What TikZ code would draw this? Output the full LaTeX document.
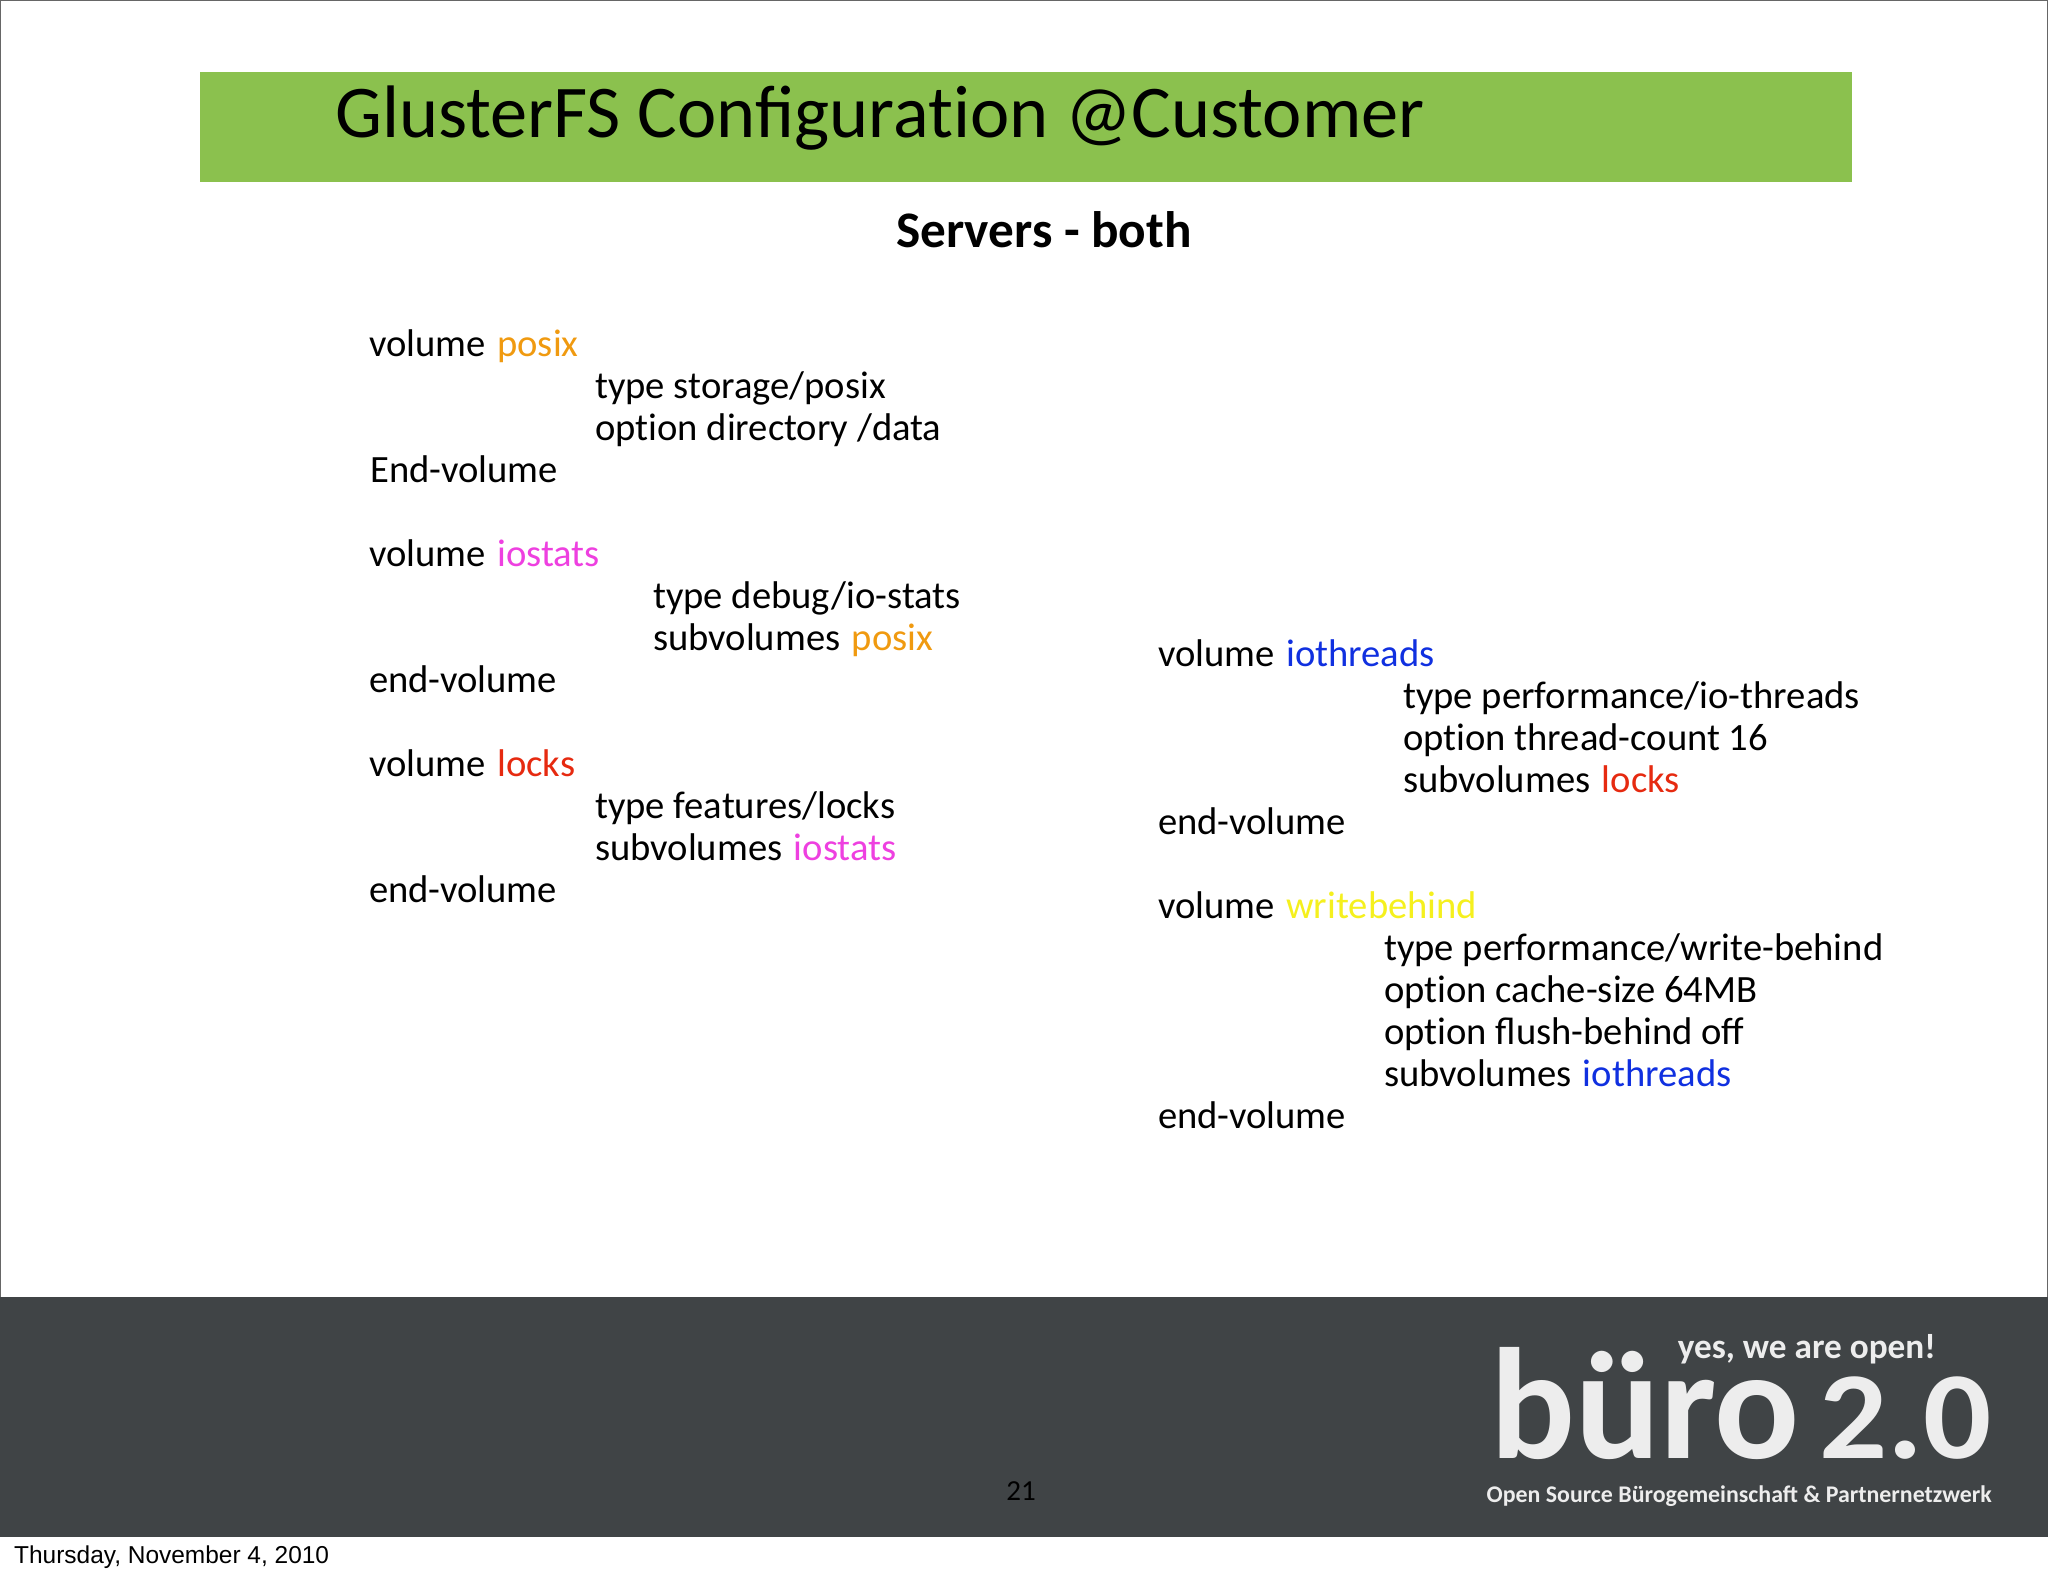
\documentclass[tikz,border=0pt]{standalone}
\usepackage{fontspec}
\usepackage{graphicx}
\setmainfont{Carlito}
\newfontfamily\helv{Liberation Sans}
\definecolor{bar}{HTML}{8BC14E}
\definecolor{foot}{HTML}{404446}
\definecolor{cposix}{HTML}{F09A10}
\definecolor{ciostats}{HTML}{EE40E0}
\definecolor{clocks}{HTML}{E62A10}
\definecolor{cthreads}{HTML}{1030E0}
\definecolor{cwrite}{HTML}{F5F01E}
\definecolor{logo}{HTML}{EDEDED}
\newcommand{\cword}[2]{\kern3pt\textcolor{#1}{#2}}
\newcommand{\tiN}{t\kern0pt i}
\tikzset{x=0.0375cm,y=-0.0375cm,
 codeline/.style={anchor=base west,inner sep=0pt,font=\fontsize{41.2}{44}\selectfont},
 titletext/.style={anchor=base west,inner sep=0pt,font=\fontsize{79.4}{84}\selectfont},
 headtext/.style={anchor=base,inner sep=0pt,font=\bfseries\fontsize{54.7}{58}\selectfont},
 logotext/.style={inner sep=0pt,text=logo}}
\begin{document}
\begin{tikzpicture}
\useasboundingbox (0,0) rectangle (2048,1576);
\fill[white] (0,0) rectangle (2048,1576);
\draw[black!60,line width=0.6pt] (0.5,0.5) -- (2047.5,0.5);
\draw[black!60,line width=0.6pt] (0.5,0.5) -- (0.5,1297);
\draw[black!60,line width=0.6pt] (2047.5,0.5) -- (2047.5,1297);
\fill[bar] (200,72) rectangle (1852,181.5);
\fill[foot] (0,1297) rectangle (2048,1537);
\node[titletext] (title) at (335,137) {GlusterFS Configura\tiN{}on @Customer};
\node[headtext] (head) at (1044,247) {Servers - both};
\node[codeline] (a1) at (369,356) {volume \cword{cposix}{posix}};
\node[codeline] (a2) at (595,398) {type storage/posix};
\node[codeline] (a3) at (595,440) {op\tiN{}on directory /data};
\node[codeline] (a4) at (370,482) {End-volume};
\node[codeline] (b1) at (369,566) {volume \cword{ciostats}{iostats}};
\node[codeline] (b2) at (653,608) {type debug/io-stats};
\node[codeline] (b3) at (653,650) {subvolumes \cword{cposix}{posix}};
\node[codeline] (b4) at (369,692) {end-volume};
\node[codeline] (c1) at (369,776) {volume \cword{clocks}{locks}};
\node[codeline] (c2) at (595,818) {type features/locks};
\node[codeline] (c3) at (595,860) {subvolumes \cword{ciostats}{iostats}};
\node[codeline] (c4) at (369,902) {end-volume};
\node[codeline] (d1) at (1158,666) {volume \cword{cthreads}{iothreads}};
\node[codeline] (d2) at (1403,708) {type performance/io-threads};
\node[codeline] (d3) at (1403,750) {op\tiN{}on thread-count 16};
\node[codeline] (d4) at (1403,792) {subvolumes \cword{clocks}{locks}};
\node[codeline] (d5) at (1158,834) {end-volume};
\node[codeline] (e1) at (1158,918) {volume \cword{cwrite}{writebehind}};
\node[codeline] (e2) at (1384,960) {type performance/write-behind};
\node[codeline] (e3) at (1384,1002) {op\tiN{}on cache-size 64MB};
\node[codeline] (e4) at (1384,1044) {op\tiN{}on flush-behind off};
\node[codeline] (e5) at (1384,1086) {subvolumes \cword{cthreads}{iothreads}};
\node[codeline] (e6) at (1158,1128) {end-volume};
\node[anchor=base,inner sep=0pt,font=\fontsize{31}{34}\selectfont,text=black] (num) at (1021,1500) {21};
\node[anchor=base west,inner sep=0pt,font=\helv\fontsize{26.1}{29}\selectfont] (date) at (14,1563) {Thursday, November 4, 2010};
\node[logotext,anchor=base east,font=\bfseries\fontsize{37.6}{40}\selectfont] (yes) at (1936,1358) {yes, we are open!};
\node[logotext,anchor=base west,font=\fontsize{169}{170}\selectfont] (buro) at (1490,1458) {\textbf{büro}};
\node[logotext,anchor=base east,font=\bfseries\fontsize{133}{135}\selectfont] (two) at (1992,1458) {\scalebox{1.08}[1]{2.0}};
\node[logotext,anchor=base east,font=\bfseries\fontsize{25.5}{28}\selectfont] (sub) at (1992,1502) {Open Source Bürogemeinschaft \& Partnernetzwerk};
\end{tikzpicture}
\end{document}
